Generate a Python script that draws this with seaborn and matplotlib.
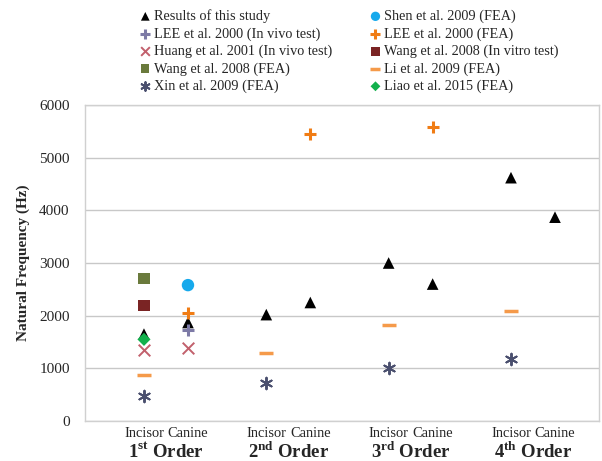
import numpy as np
import pandas as pd
import seaborn as sns
import matplotlib.pyplot as plt

sns.set_style('white')
plt.rcParams['font.family'] = ['Liberation Serif', 'DejaVu Serif']
plt.rcParams['mathtext.fontset'] = 'custom'
plt.rcParams['mathtext.rm'] = 'Liberation Serif'
plt.rcParams['mathtext.bf'] = 'Liberation Serif:bold'

# slots: 1st Incisor, 1st Canine, 2nd Incisor, 2nd Canine, 3rd Incisor, 3rd Canine, 4th Incisor, 4th Canine
tick_labels = ['Incisor', 'Canine'] * 4
group_labels = ['1$^{\\mathbf{st}}$ Order', '2$^{\\mathbf{nd}}$ Order',
                '3$^{\\mathbf{rd}}$ Order', '4$^{\\mathbf{th}}$ Order']

this_study = [1650, 1870, 2020, 2250, 3000, 2600, 4620, 3870]
shen_2009 = [None, 2580, None, None, None, None, None, None]
lee_2000_vivo = [None, 1720, None, None, None, None, None, None]
lee_2000_fea = [None, 2050, None, 5450, None, 5580, None, None]
huang_2001 = [1350, 1380, None, None, None, None, None, None]
wang_2008_vitro = [2200, None, None, None, None, None, None, None]
wang_2008_fea = [2700, None, None, None, None, None, None, None]
li_2009 = [880, None, 1290, None, 1830, None, 2090, None]
xin_2009 = [480, None, 730, None, 1000, None, 1170, None]
liao_2015 = [1550, None, None, None, None, None, None, None]

series = [
    ('Results of this study', this_study, '^', '#000000', 70, None),
    ('Shen et al. 2009 (FEA)', shen_2009, 'o', '#16a9ec', 80, None),
    ('LEE et al. 2000 (In vivo test)', lee_2000_vivo, '+', '#7d7aa6', 80, 2.2),
    ('LEE et al. 2000 (FEA)', lee_2000_fea, '+', '#f07c14', 80, 2.2),
    ('Huang et al. 2001 (In vivo test)', huang_2001, 'x', '#c2606c', 70, 1.4),
    ('Wang et al. 2008 (In vitro test)', wang_2008_vitro, 's', '#7a2424', 65, None),
    ('Wang et al. 2008 (FEA)', wang_2008_fea, 's', '#6a7a3c', 65, None),
    ('Li et al. 2009 (FEA)', li_2009, '_', '#f59a4a', 90, 2.5),
    ('Xin et al. 2009 (FEA)', xin_2009, (6, 2, 0), '#4a4f6e', 70, 1.4),
    ('Liao et al. 2015 (FEA)', liao_2015, 'D', '#12b04c', 45, None),
]

spacing = 2.78
xpos = [g * spacing + k for g in range(4) for k in (0, 1)]

fig, ax = plt.subplots(figsize=(6.02, 4.61), dpi=100)
fig.subplots_adjust(left=85/602, right=599/602, top=1-105/461, bottom=1-421/461)

for name, vals, mk, col, sz, lw in series:
    df = pd.DataFrame({'x': xpos, 'y': vals}).dropna()
    kw = dict(marker=mk, s=sz, ax=ax, label=name, zorder=3)
    if lw is None:
        kw.update(color=col, edgecolor='none')
    else:
        kw.update(color=col, linewidth=lw)
    sns.scatterplot(data=df, x='x', y='y', **kw)

ax.set_xlim(-1.34, 3 * spacing + 2.0)
ax.set_ylim(0, 6000)
ax.set_yticks(np.arange(0, 6001, 1000))
ax.yaxis.grid(True, color='#c8c8c8', linewidth=1)
ax.set_axisbelow(True)
for s in ax.spines.values():
    s.set_color('#d0d0d0')
    s.set_linewidth(1)

ax.set_xticks(xpos)
ax.set_xticklabels(tick_labels, fontsize=10.4)
ax.tick_params(axis='x', direction='in', length=7, color='#bbbbbb', pad=4)
ax.tick_params(axis='y', length=0, labelsize=11, pad=11)
ax.set_xlabel('')
ax.set_ylabel('Natural Frequency (Hz)', fontsize=11, fontweight='bold', labelpad=7)

for g, lab in enumerate(group_labels):
    ax.text(g * spacing + 0.5, -31/316, lab, transform=ax.get_xaxis_transform(),
            ha='center', va='center', fontsize=13.5, fontweight='bold')

h, l = ax.get_legend_handles_labels()
order = [0, 2, 4, 6, 8, 1, 3, 5, 7, 9]
ax.legend([h[i] for i in order], [l[i] for i in order], ncol=2, frameon=False,
          loc='upper left', bbox_to_anchor=(131.7/602, 1.0), bbox_transform=fig.transFigure,
          fontsize=10.3, handlelength=0.6, handletextpad=0.3, labelspacing=0.28,
          columnspacing=2.73, borderaxespad=0.25, markerscale=0.75)

fig.savefig('out.png', dpi=100)
